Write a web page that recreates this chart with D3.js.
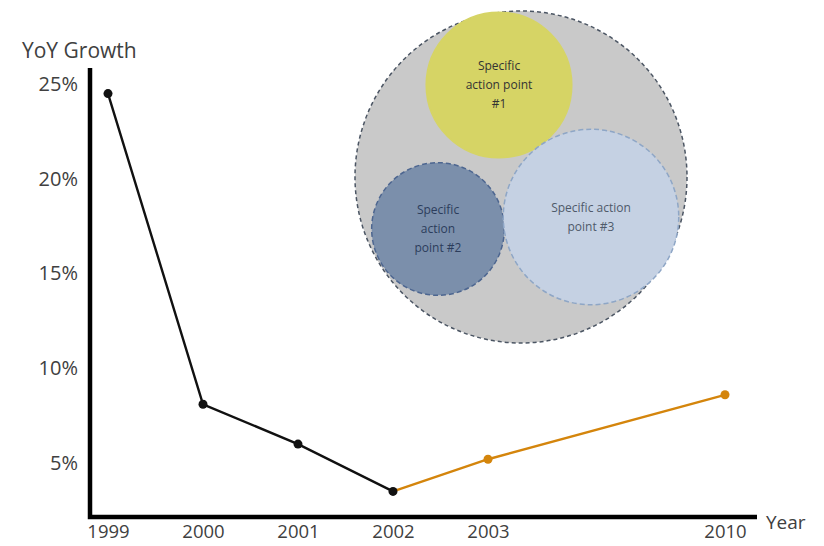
<!DOCTYPE html>
<html>
<head>
<meta charset="utf-8">
<script src="https://cdn.jsdelivr.net/npm/d3@7"></script>
<style>
    body { margin: 0; background: #fff; }
    text { font-family: "Open Sans", sans-serif; }
</style>
</head>
<body>
<svg id="chart" width="824" height="546"></svg>
<script>
// chart values
const actualYears= [1999, 2000, 2001, 2002];
const actualGrowth= [24.5, 8.1, 6.0, 3.5];
const projectedYears= [2002, 2003, 2010];
const projectedGrowth= [3.5, 5.2, 8.6];
const yearTicks= [1999, 2000, 2001, 2002, 2003, 2010];
const growthTicks= [5, 10, 15, 20, 25];

// action point bubbles
const bubbleNames= ["Specific action point #1", "Specific action point #2", "Specific action point #3"];
const bubbleValues= [53, 44, 77];
const bubbleLines= [["Specific", "action point", "#1"], ["Specific", "action", "point #2"], ["Specific action", "point #3"]];

const lineColor= "#111";
const projColor= "#d4850c";
const textColor= "#404040";

const svg= d3.select("#chart");

const x= d3.scaleLinear()
    .domain([1999, 2003, 2010])
    .range([108, 488, 725]);

const y= d3.scaleLinear()
    .domain([2.15, 25.85])
    .range([517, 68]);

// axes
const yAxis= svg.append("g")
    .attr("transform", "translate(80,0)")
    .call(d3.axisLeft(y).tickValues(growthTicks).tickSize(0).tickFormat(d => d + "%"));
yAxis.select(".domain").remove();
yAxis.selectAll("text")
    .attr("x", -2)
    .attr("dy", "0.32em")
    .attr("fill", textColor)
    .style("font-size", "20px")
    .style("font-family", "Open Sans");

const xAxis= svg.append("g")
    .attr("transform", "translate(0,523)")
    .call(d3.axisBottom(x).tickValues(yearTicks).tickSize(0).tickFormat(d3.format("d")));
xAxis.select(".domain").remove();
xAxis.selectAll("text")
    .attr("y", 2)
    .attr("fill", textColor)
    .style("font-size", "18.5px")
    .style("font-family", "Open Sans");

svg.append("path")
    .attr("d", `M${x.range()[0] - 18},${y(y.domain()[1])} V${y(y.domain()[0])} H${x(2010) + 32}`)
    .attr("fill", "none")
    .attr("stroke", "#000")
    .attr("stroke-width", 4.5)
    .attr("stroke-linejoin", "miter");

svg.append("text")
    .attr("x", 22)
    .attr("y", 58)
    .attr("fill", textColor)
    .style("font-size", "21px")
    .text("YoY Growth");

svg.append("text")
    .attr("x", 766)
    .attr("y", 529)
    .attr("fill", textColor)
    .style("font-size", "19px")
    .text("Year");

// lines
const line= d3.line()
    .x(d => x(d[0]))
    .y(d => y(d[1]));

const actual= actualYears.map((v, i) => [v, actualGrowth[i]]);
const projected= projectedYears.map((v, i) => [v, projectedGrowth[i]]);

svg.append("path")
    .datum(projected)
    .attr("d", line)
    .attr("fill", "none")
    .attr("stroke", projColor)
    .attr("stroke-width", 2.4);

svg.append("path")
    .datum(actual)
    .attr("d", line)
    .attr("fill", "none")
    .attr("stroke", lineColor)
    .attr("stroke-width", 2.4);

svg.selectAll(".proj-dot")
    .data(projected.slice(1))
    .join("circle")
    .attr("class", "proj-dot")
    .attr("cx", d => x(d[0]))
    .attr("cy", d => y(d[1]))
    .attr("r", 4.5)
    .attr("fill", projColor);

svg.selectAll(".act-dot")
    .data(actual)
    .join("circle")
    .attr("class", "act-dot")
    .attr("cx", d => x(d[0]))
    .attr("cy", d => y(d[1]))
    .attr("r", 4.5)
    .attr("fill", lineColor);

// bubble annotation
const bubbleLayout= {
    "center": {"x": 521, "y": 177},
    "outer": 166,
    "offsets": [[-22, -92], [-83, 52], [70, 40]],
    "fills": ["#d6d465", "#7b8fab", "#c5d1e3"],
    "strokes": ["#d6d465", "#4d6690", "#8ea6c6"],
    "textColors": ["#333", "#2c3d5c", "#4f5a6a"],
    "fontSize": 12,
}
const r= d3.scaleSqrt().domain([0, 100]).range([0, 100]);

svg.append("circle")
    .attr("cx", bubbleLayout.center.x)
    .attr("cy", bubbleLayout.center.y)
    .attr("r", bubbleLayout.outer)
    .attr("fill", "#c9c9c9")
    .attr("stroke", "#4b5563")
    .attr("stroke-width", 1.5)
    .attr("stroke-dasharray", "4,3");

const bubbles= svg.selectAll(".bubble")
    .data(bubbleNames)
    .join("g")
    .attr("class", "bubble")
    .attr("transform", (d, i) => `translate(${bubbleLayout.center.x + bubbleLayout.offsets[i][0]},${bubbleLayout.center.y + bubbleLayout.offsets[i][1]})`);

bubbles.append("circle")
    .attr("r", (d, i) => r(bubbleValues[i]))
    .attr("fill", (d, i) => bubbleLayout.fills[i])
    .attr("stroke", (d, i) => bubbleLayout.strokes[i])
    .attr("stroke-width", 1.5)
    .attr("stroke-dasharray", (d, i) => i == 0 ? null : "5,3");

bubbles.each(function(d, i) {
    const lines= bubbleLines[i];
    const lh= 19;
    d3.select(this).selectAll("text")
        .data(lines)
        .join("text")
        .attr("text-anchor", "middle")
        .attr("y", (t, j) => (j - (lines.length - 1) / 2) * lh)
        .attr("dy", "0.35em")
        .attr("fill", bubbleLayout.textColors[i])
        .style("font-size", bubbleLayout.fontSize + "px")
        .text(t => t);
});
</script>
</body>
</html>
